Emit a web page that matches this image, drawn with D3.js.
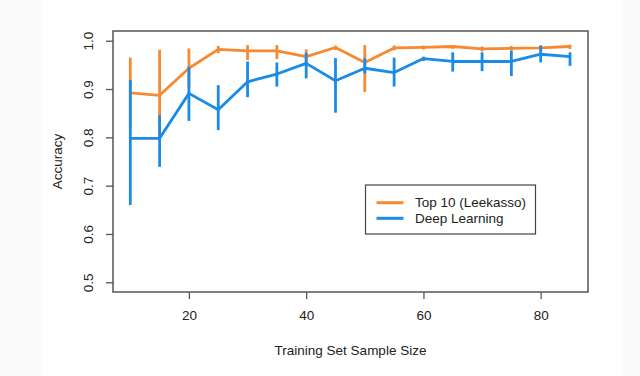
<!DOCTYPE html>
<html>
<head>
    <meta charset="utf-8">
    <script src="https://d3js.org/d3.v7.min.js" charset="utf-8"></script>
    <style>
        body { margin: 0; background: #fff; }
        text { font-family: "Liberation Sans", Arial, sans-serif; fill: #222; }
    </style>
</head>
<body>
    <div id="chart_container"></div>
    <script>
        // sample sizes on the x axis
        var sizes = [10, 15, 20, 25, 30, 35, 40, 45, 50, 55, 60, 65, 70, 75, 80, 85];

        // Top 10 (Leekasso): mean, lower and upper end of the bar
        var leekMean = [0.892, 0.887, 0.943, 0.982, 0.979, 0.979, 0.967, 0.986, 0.955, 0.985, 0.986, 0.988, 0.983, 0.984, 0.985, 0.988];
        var leekLow  = [0.820, 0.794, 0.902, 0.974, 0.960, 0.962, 0.952, 0.981, 0.894, 0.980, 0.982, 0.983, 0.978, 0.979, 0.980, 0.983];
        var leekHigh = [0.965, 0.981, 0.984, 0.989, 0.991, 0.991, 0.982, 0.990, 0.991, 0.990, 0.990, 0.991, 0.988, 0.989, 0.990, 0.992];

        // Deep Learning
        var deepMean = [0.798, 0.798, 0.891, 0.857, 0.915, 0.931, 0.953, 0.917, 0.943, 0.934, 0.963, 0.957, 0.957, 0.957, 0.972, 0.967];
        var deepLow  = [0.660, 0.739, 0.834, 0.815, 0.883, 0.905, 0.922, 0.851, 0.932, 0.905, 0.958, 0.936, 0.937, 0.927, 0.955, 0.948];
        var deepHigh = [0.919, 0.846, 0.946, 0.908, 0.957, 0.955, 0.975, 0.964, 0.964, 0.965, 0.967, 0.976, 0.976, 0.979, 0.990, 0.976];

        var xTicks = [20, 40, 60, 80];
        var yTicks = [0.5, 0.6, 0.7, 0.8, 0.9, 1.0];
        var legendLabels = ['Top 10 (Leekasso)', 'Deep Learning'];
        var colors = ['#f68a32', '#1a8be6'];

        var width = 640, height = 376;
        var box = { left: 113, right: 588, top: 31, bottom: 292 };
        var fontSize = 13.5;

        var svg = d3.select('#chart_container').append('svg')
            .attr('width', width).attr('height', height);

        // faint side bands of the screenshot
        svg.append('rect').attr('x', 0).attr('y', 0).attr('width', 42).attr('height', height).attr('fill', '#fafafa');
        svg.append('rect').attr('x', 622).attr('y', 0).attr('width', 18).attr('height', height).attr('fill', '#fafafa');

        var x = d3.scaleLinear().domain([10, 85]).range([130.3, 570]);
        var y = d3.scaleLinear().domain([0.5, 1.0]).range([282.3, 40.7]);

        var series = [
            { mean: leekMean, low: leekLow, high: leekHigh, color: colors[0] },
            { mean: deepMean, low: deepLow, high: deepHigh, color: colors[1] }
        ];

        var line = d3.line().x(d => x(d[0])).y(d => y(d[1]));

        series.forEach(s => {
            var g = svg.append('g');
            g.append('path')
                .datum(sizes.map((v, i) => [v, s.mean[i]]))
                .attr('d', line)
                .attr('fill', 'none')
                .attr('stroke', s.color)
                .attr('stroke-width', 2.8)
                .attr('stroke-linejoin', 'round');
            g.selectAll('line.err')
                .data(sizes)
                .enter().append('line')
                .attr('class', 'err')
                .attr('x1', d => x(d)).attr('x2', d => x(d))
                .attr('y1', (d, i) => y(s.low[i]))
                .attr('y2', (d, i) => y(s.high[i]))
                .attr('stroke', s.color)
                .attr('stroke-width', 2.8);
        });

        // plot frame
        svg.append('rect')
            .attr('x', box.left).attr('y', box.top)
            .attr('width', box.right - box.left).attr('height', box.bottom - box.top)
            .attr('fill', 'none').attr('stroke', '#555').attr('stroke-width', 1.5);

        // x axis
        var xAxis = svg.append('g')
            .attr('transform', 'translate(0,' + box.bottom + ')')
            .call(d3.axisBottom(x).tickValues(xTicks).tickSize(7).tickPadding(11));
        xAxis.select('.domain').remove();
        xAxis.selectAll('line').attr('stroke', '#555').attr('stroke-width', 1.3);
        xAxis.selectAll('text').attr('font-size', fontSize).attr('fill', '#222')
            .attr('font-family', '"Liberation Sans", Arial, sans-serif');

        // y axis, labels parallel to the axis
        var yAxis = svg.append('g')
            .attr('transform', 'translate(' + box.left + ',0)')
            .call(d3.axisLeft(y).tickValues(yTicks).tickSize(7).tickFormat(d3.format('.1f')));
        yAxis.select('.domain').remove();
        yAxis.selectAll('line').attr('stroke', '#555').attr('stroke-width', 1.3);
        yAxis.selectAll('text')
            .attr('font-size', fontSize).attr('fill', '#222')
            .attr('font-family', '"Liberation Sans", Arial, sans-serif')
            .attr('x', 0).attr('dy', '0.35em')
            .attr('text-anchor', 'middle')
            .attr('transform', 'translate(-25,0) rotate(-90)');

        // axis titles
        svg.append('text')
            .attr('x', (box.left + box.right) / 2).attr('y', 355)
            .attr('text-anchor', 'middle').attr('font-size', fontSize)
            .text('Training Set Sample Size');
        svg.append('text')
            .attr('transform', 'translate(62,' + (box.top + box.bottom) / 2 + ') rotate(-90)')
            .attr('text-anchor', 'middle').attr('font-size', fontSize)
            .text('Accuracy');

        // legend
        var legend = svg.append('g');
        legend.append('rect')
            .attr('x', 365.5).attr('y', 185).attr('width', 170).attr('height', 49)
            .attr('fill', '#fff').attr('stroke', '#444').attr('stroke-width', 1.2);
        legendLabels.forEach((label, i) => {
            var ly = 202.7 + i * 15.6;
            legend.append('line')
                .attr('x1', 376.5).attr('x2', 403.5).attr('y1', ly).attr('y2', ly)
                .attr('stroke', colors[i]).attr('stroke-width', 3);
            legend.append('text')
                .attr('x', 415).attr('y', ly).attr('dy', '0.35em')
                .attr('font-size', fontSize).text(label);
        });
    </script>
</body>
</html>
